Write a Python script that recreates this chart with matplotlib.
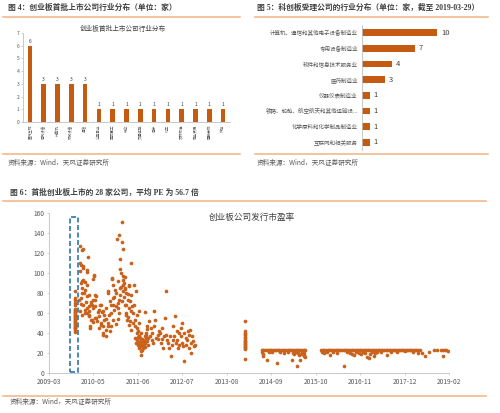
import matplotlib
matplotlib.use('Agg')
import matplotlib.pyplot as plt
from matplotlib.lines import Line2D
from matplotlib.patches import Rectangle

plt.rcParams['font.family'] = ['Noto Sans CJK SC', 'DejaVu Sans']

#------------------------------------------------------------------------------
# Data
#------------------------------------------------------------------------------
# Figure 4: industries of the first ChiNext batch
fig4_industries = ['医药生物', '电气设备', '计算机', '机械设备', '通信', '公用事业',
                   '国防军工', '综合', '交通运输', '电子', '化工', '农林牧渔',
                   '商业贸易', '建筑装饰', '传媒']
fig4_counts = [6, 3, 3, 3, 3, 1, 1, 1, 1, 1, 1, 1, 1, 1, 1]

# Figure 5: STAR market applicants by industry
fig5_industries = ['计算机、通信和其他电子设备制造业', '专用设备制造业', '软件和信息技术服务业',
                   '医药制造业', '仪器仪表制造业', '铁路、船舶、航空航天和其他运输设...',
                   '化学原料和化学制品制造业', '互联网和相关服务']
fig5_counts = [10, 7, 4, 3, 1, 1, 1, 1]

# Figure 6: issue PE of ChiNext IPOs (x in decimal years)
tick_labels = ['2009-03', '2010-05', '2011-06', '2012-07', '2013-08',
               '2014-09', '2015-10', '2016-11', '2017-12', '2019-02']

first_batch_date = 2009.81
first_batch_pe = [82, 75, 73, 70, 68, 64, 63, 62, 61, 60, 59, 58, 57, 56,
                  55, 54, 53, 52, 51, 50, 49, 48, 47, 46, 45, 45, 43, 41]

pe_2009_2012 = [
    (2009.91, 73), (2009.93, 127), (2009.93, 62), (2009.94, 102), (2009.94, 110),
    (2009.96, 108), (2009.96, 90), (2009.96, 75), (2009.97, 69), (2009.98, 92),
    (2009.99, 123), (2009.99, 80), (2009.99, 58), (2009.99, 85), (2010.01, 124),
    (2010.01, 105), (2010.02, 107), (2010.02, 68), (2010.02, 93), (2010.04, 80),
    (2010.05, 91), (2010.05, 63), (2010.06, 83), (2010.06, 60), (2010.09, 71),
    (2010.10, 101), (2010.10, 88), (2010.10, 65), (2010.11, 77), (2010.11, 103),
    (2010.12, 60), (2010.14, 116), (2010.16, 58), (2010.16, 78), (2010.16, 67),
    (2010.17, 57), (2010.17, 62), (2010.19, 45), (2010.19, 47), (2010.21, 69),
    (2010.22, 71), (2010.22, 53), (2010.24, 68), (2010.24, 53), (2010.25, 65),
    (2010.27, 94), (2010.27, 51), (2010.27, 73), (2010.28, 97), (2010.29, 98),
    (2010.30, 55), (2010.31, 78), (2010.32, 67), (2010.32, 73), (2010.34, 77),
    (2010.34, 55), (2010.35, 52), (2010.38, 61), (2010.40, 45), (2010.42, 57),
    (2010.42, 63), (2010.44, 68), (2010.46, 50), (2010.46, 48), (2010.46, 68),
    (2010.49, 61), (2010.50, 40), (2010.52, 47), (2010.52, 38), (2010.52, 62),
    (2010.54, 58), (2010.54, 53), (2010.57, 37), (2010.58, 54), (2010.58, 43),
    (2010.58, 65), (2010.62, 47), (2010.62, 50), (2010.62, 80), (2010.63, 82),
    (2010.66, 58), (2010.67, 42), (2010.68, 72), (2010.72, 95), (2010.71, 47),
    (2010.71, 60), (2010.71, 68), (2010.73, 94), (2010.75, 53), (2010.75, 68),
    (2010.76, 75), (2010.76, 88), (2010.79, 63), (2010.79, 76), (2010.81, 83),
    (2010.85, 134), (2010.82, 80), (2010.83, 67), (2010.83, 49), (2010.87, 65),
    (2010.87, 54), (2010.87, 70), (2010.89, 92), (2010.91, 138), (2010.90, 73),
    (2010.91, 60), (2010.93, 78), (2010.93, 114), (2010.93, 104), (2010.93, 85),
    (2010.99, 151), (2010.96, 86), (2011.01, 124), (2010.98, 131), (2010.96, 100),
    (2010.97, 72), (2011.00, 97), (2011.00, 82), (2011.01, 88), (2011.01, 93),
    (2011.03, 90), (2011.04, 76), (2011.05, 85), (2011.05, 68), (2011.06, 84),
    (2011.05, 96), (2011.08, 68), (2011.08, 60), (2011.08, 80), (2011.09, 58),
    (2011.10, 53), (2011.12, 79), (2011.12, 73), (2011.12, 56), (2011.14, 65),
    (2011.14, 88), (2011.15, 48), (2011.16, 87), (2011.17, 72), (2011.17, 52),
    (2011.20, 110), (2011.20, 78), (2011.20, 62), (2011.20, 43), (2011.22, 67),
    (2011.24, 50), (2011.26, 60), (2011.28, 68), (2011.28, 88), (2011.29, 47),
    (2011.31, 53), (2011.32, 82), (2011.34, 58), (2011.34, 40), (2011.36, 45),
    (2011.37, 42), (2011.39, 62), (2011.39, 37), (2011.40, 50), (2011.40, 37),
    (2011.42, 28), (2011.44, 22), (2011.45, 33), (2011.46, 18), (2011.47, 30),
    (2011.49, 25), (2011.50, 33), (2011.52, 27), (2011.54, 37), (2011.54, 61),
    (2011.55, 30), (2011.57, 40), (2011.58, 35), (2011.60, 32), (2011.61, 47),
    (2011.63, 35), (2011.65, 52), (2011.67, 37), (2011.69, 45), (2011.72, 33),
    (2011.73, 40), (2011.75, 30), (2011.76, 62), (2011.77, 47), (2011.80, 53),
    (2011.82, 35), (2011.86, 38), (2011.88, 34), (2011.90, 42), (2011.93, 40),
    (2011.94, 30), (2011.96, 45), (2011.98, 34), (2012.00, 25), (2012.02, 37),
    (2012.05, 55), (2012.08, 82), (2012.08, 38), (2012.10, 33), (2012.13, 30),
    (2012.14, 25), (2012.16, 37), (2012.19, 17), (2012.21, 28), (2012.23, 33),
    (2012.24, 47), (2012.27, 37), (2012.29, 57), (2012.31, 30), (2012.33, 42),
    (2012.35, 33), (2012.37, 25), (2012.39, 28), (2012.39, 40), (2012.43, 37),
    (2012.45, 45), (2012.46, 50), (2012.47, 30), (2012.49, 27), (2012.51, 12),
    (2012.52, 40), (2012.56, 35), (2012.57, 28), (2012.60, 33), (2012.62, 42),
    (2012.64, 25), (2012.65, 38), (2012.66, 43), (2012.68, 30), (2012.70, 20),
    (2012.72, 37), (2012.74, 32), (2012.76, 27), (2012.78, 28),
    (2011.30, 35), (2011.33, 30), (2011.35, 33), (2011.38, 28), (2011.41, 31),
    (2011.43, 35), (2011.44, 27), (2011.47, 34), (2011.48, 23), (2011.51, 29),
    (2011.53, 32), (2011.56, 26), (2011.58, 38), (2011.62, 28), (2011.41, 25),
    (2011.37, 36), (2011.45, 40), (2011.59, 44),
]

pe_2014_jan_date = 2014.03
pe_2014_jan = [51.6, 42, 40, 39, 38, 36, 35, 33, 32, 31, 30, 29, 28, 27, 26, 25, 24, 14]

band_2014_dates = [2014.44, 2014.48, 2014.52, 2014.56, 2014.60, 2014.64, 2014.68,
                   2014.72, 2014.76, 2014.80, 2014.84, 2014.88, 2014.92, 2014.96,
                   2015.00, 2015.04, 2015.08, 2015.12, 2015.16, 2015.20, 2015.24,
                   2015.28, 2015.32, 2015.36, 2015.40, 2015.44, 2015.48, 2015.52]
band_2014_pe = [23] * 28
low_2014 = [(2014.45, 21), (2014.46, 19), (2014.47, 16.6), (2014.57, 12.6),
            (2014.62, 21), (2014.70, 21.5), (2014.82, 10), (2014.90, 21),
            (2015.00, 20.5), (2015.10, 21), (2015.19, 12.6), (2015.22, 20),
            (2015.25, 19), (2015.28, 21), (2015.31, 7.3), (2015.33, 20),
            (2015.36, 18), (2015.39, 13.3), (2015.42, 19.5), (2015.45, 21),
            (2015.48, 17), (2015.50, 20), (2015.52, 16), (2015.50, 18.5)]

band_2016_dates = [2015.91, 2015.95, 2015.99, 2016.03, 2016.07, 2016.11, 2016.15,
                   2016.19, 2016.23, 2016.27, 2016.31, 2016.35, 2016.39, 2016.43,
                   2016.47, 2016.51, 2016.55, 2016.59, 2016.63, 2016.67, 2016.71,
                   2016.75, 2016.79, 2016.83, 2016.87, 2016.91, 2016.95, 2016.99,
                   2017.03, 2017.07, 2017.11, 2017.15, 2017.19, 2017.23, 2017.27,
                   2017.31, 2017.35, 2017.39, 2017.43, 2017.47, 2017.51, 2017.55,
                   2017.59, 2017.63, 2017.67, 2017.71, 2017.75, 2017.79, 2017.83,
                   2017.87, 2017.91, 2017.95, 2017.99, 2018.03, 2018.07, 2018.11,
                   2018.15, 2018.19, 2018.23, 2018.27, 2018.31, 2018.35]
band_2016_pe = [23] * 62
low_2016 = [(2015.93, 21), (2015.98, 20), (2016.05, 21.5), (2016.14, 18.3),
            (2016.20, 21), (2016.30, 20), (2016.47, 7.3), (2016.55, 21),
            (2016.62, 20), (2016.68, 19), (2016.72, 18), (2016.78, 21),
            (2016.85, 20), (2016.90, 19.5), (2016.95, 21), (2017.00, 20),
            (2017.05, 16), (2017.09, 15), (2017.12, 19), (2017.16, 21),
            (2017.21, 16.6), (2017.25, 20), (2017.30, 21.5), (2017.40, 21),
            (2017.54, 18.3), (2017.65, 21.5), (2017.80, 21.5), (2018.00, 21.8),
            (2018.20, 21.5), (2018.30, 20.5), (2018.41, 20), (2018.49, 17.3),
            (2018.59, 20.6), (2018.70, 22.6), (2018.79, 23), (2018.87, 22.6),
            (2018.93, 22.6), (2018.93, 16.6), (2018.97, 23), (2019.00, 23),
            (2019.06, 21.6)]

#------------------------------------------------------------------------------
W, H = 500, 413
BAR_COLOUR = '#C55A11'
DOT_COLOUR = '#C9621C'
RULE_COLOUR = '#F4B183'
TEXT_COLOUR = '#404040'
AXIS_COLOUR = '#BFBFBF'
DOT_SIZE = 7
HEAD_FONT = ['Liberation Serif', 'Noto Sans CJK SC', 'DejaVu Sans']

fig = plt.figure(figsize=(W / 100, H / 100), dpi=100)


def fx(px):
    return px / W


def fy(py):
    return 1 - py / H


def add_ax(left, top, right, bottom):
    return fig.add_axes([fx(left), fy(bottom), (right - left) / W, (bottom - top) / H])


def rule(x0, x1, y):
    fig.add_artist(Line2D([fx(x0), fx(x1)], [fy(y), fy(y)], transform=fig.transFigure,
                          color=RULE_COLOUR, linewidth=1.1))


def header(x, y, text):
    fig.text(fx(x), fy(y), text, fontsize=5.6, fontweight='bold', color=TEXT_COLOUR,
             va='center', ha='left', family=HEAD_FONT)


def source(x, y):
    fig.text(fx(x), fy(y), '资料来源：Wind，天风证券研究所', fontsize=4.8,
             color='#595959', va='center', ha='left')


def style_axes(ax):
    for side in ('top', 'right'):
        ax.spines[side].set_visible(False)
    for side in ('left', 'bottom'):
        ax.spines[side].set_color(AXIS_COLOUR)
        ax.spines[side].set_linewidth(0.6)
    ax.tick_params(colors=AXIS_COLOUR, labelcolor='#595959', length=1.5, width=0.5)


def dots(ax, xs, ys, **kw):
    ax.scatter(xs, ys, s=DOT_SIZE, color=DOT_COLOUR, linewidths=0, **kw)


#------------------------------------------------------------------------------
# Figure 4 (top left)
header(8, 8, '图 4：创业板首批上市公司行业分布（单位：家）')
rule(3, 240, 16.5)
ax4 = add_ax(23, 33, 230, 122)
style_axes(ax4)
pos4 = list(range(len(fig4_counts)))
bars4 = ax4.bar(pos4, fig4_counts, width=0.34, color=BAR_COLOUR)
ax4.bar_label(bars4, padding=1.5, fontsize=3.6, color='#404040')
ax4.set_xlim(-0.5, len(fig4_counts) - 0.5)
ax4.set_ylim(0, 7)
ax4.set_yticks(range(0, 8))
ax4.tick_params(axis='y', labelsize=3.6, pad=1)
ax4.set_xticks(pos4)
ax4.set_xticklabels(fig4_industries, rotation=90, fontsize=2.6)
ax4.tick_params(axis='x', length=0, pad=2)
fig.text(fx(123), fy(29), '创业板首批上市公司行业分布', fontsize=4.8, color=TEXT_COLOUR,
         ha='center', va='center')
rule(3, 240, 154)
source(8, 163)

#------------------------------------------------------------------------------
# Figure 5 (top right)
header(257, 8, '图 5：科创板受理公司的行业分布（单位：家，截至 2019-03-29）')
rule(255, 488, 16.5)
ax5 = add_ax(362, 25, 480, 150)
style_axes(ax5)
pos5 = list(range(len(fig5_counts)))
bars5 = ax5.barh(pos5, fig5_counts, height=0.43, color=BAR_COLOUR)
ax5.bar_label(bars5, padding=3, fontsize=5.5, color='#404040')
ax5.set_ylim(len(fig5_counts) - 0.5, -0.5)
ax5.set_xlim(0, 15.7)
ax5.set_yticks(pos5)
ax5.set_yticklabels(fig5_industries, fontsize=4.0)
ax5.tick_params(axis='y', length=0, pad=3)
ax5.spines['bottom'].set_visible(False)
ax5.set_xticks([])
rule(255, 488, 154)
source(257, 163)

#------------------------------------------------------------------------------
# Figure 6 (bottom)
header(10, 192.5, '图 6：首批创业板上市的 28 家公司，平均 PE 为 56.7 倍')
rule(3, 486, 200.5)
ax6 = add_ax(49, 213, 449, 373)
style_axes(ax6)
x_start, x_stop = 2009.17, 2019.08
step = (x_stop - x_start) / (len(tick_labels) - 1)
ax6.set_xlim(x_start, x_stop)
ax6.set_xticks([x_start + i * step for i in range(len(tick_labels))])
ax6.set_xticklabels(tick_labels)
ax6.set_ylim(0, 160)
ax6.set_yticks(range(0, 161, 20))
ax6.tick_params(labelsize=4.8, pad=2)

dots(ax6, [first_batch_date] * len(first_batch_pe), first_batch_pe)
dots(ax6, [p[0] for p in pe_2009_2012], [p[1] for p in pe_2009_2012])
dots(ax6, [pe_2014_jan_date] * len(pe_2014_jan), pe_2014_jan)
dots(ax6, band_2014_dates, band_2014_pe)
dots(ax6, [p[0] for p in low_2014], [p[1] for p in low_2014])
dots(ax6, band_2016_dates, band_2016_pe)
dots(ax6, [p[0] for p in low_2016], [p[1] for p in low_2016])

# dashed box round the first batch
ax6.add_patch(Rectangle((2009.69, 1), 0.20, 155, fill=False, edgecolor='#2E75B6',
                        linewidth=1.2, linestyle=(0, (3, 1.5)), zorder=3))
ax6.text(2014.2, 156, '创业板公司发行市盈率', fontsize=6.2, color=TEXT_COLOUR,
         ha='center', va='center')
rule(3, 486, 396)
source(10, 402)

fig.savefig('out.png', dpi=100)
